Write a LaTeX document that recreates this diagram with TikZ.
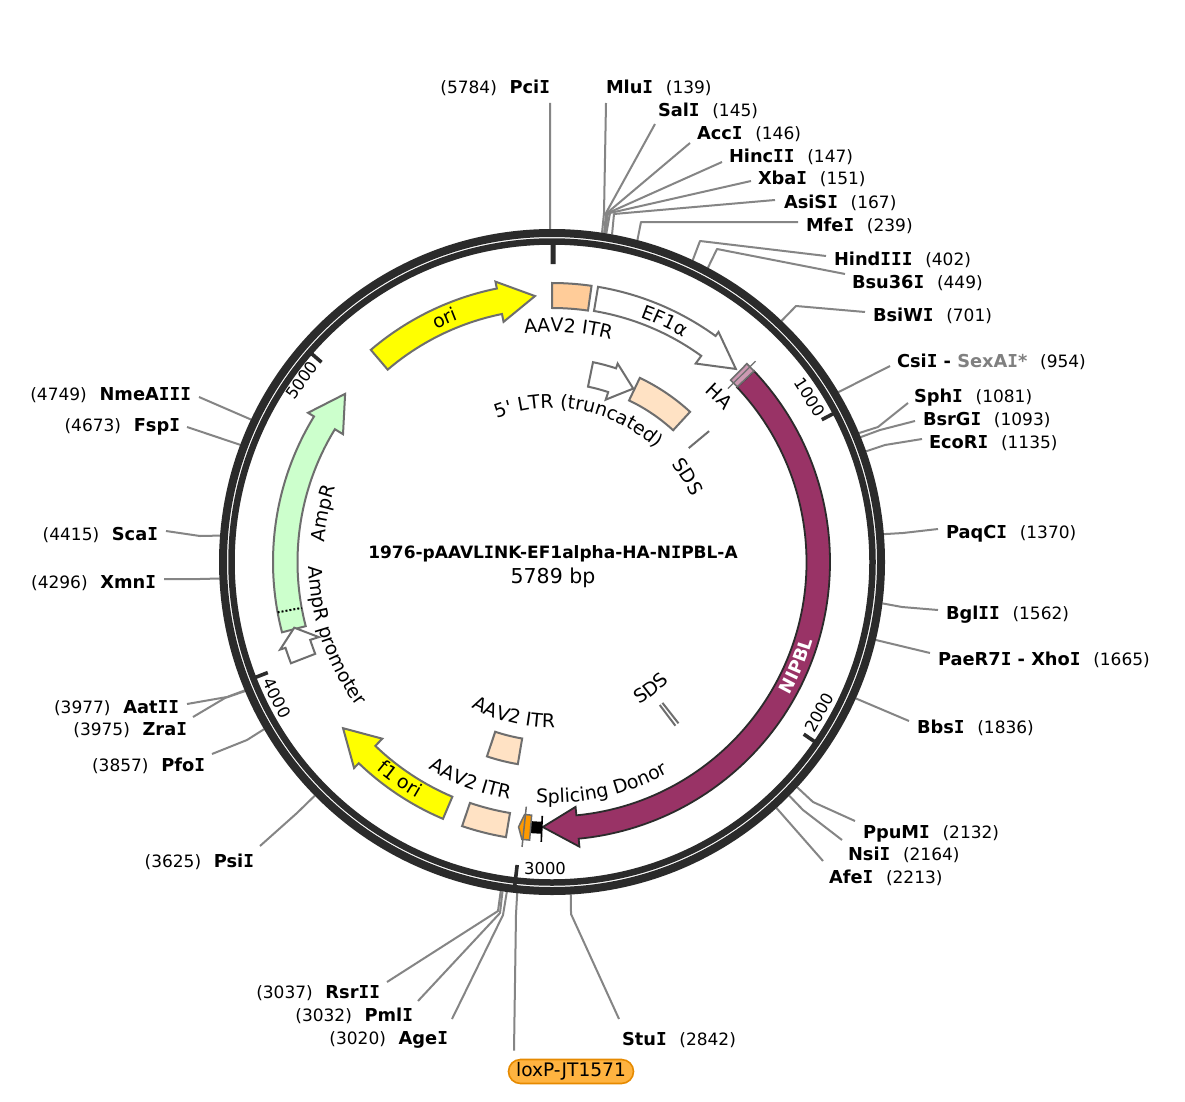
\documentclass[tikz,border=0pt]{standalone}
\usepackage{fontspec}
\usetikzlibrary{decorations.text}
\setmainfont{DejaVu Sans}[Ligatures=TeXOff]
\newfontfamily\monof{DejaVu Sans Mono}
\newcommand\Ib{{\monof\bfseries I}}
\newcommand\nmfont{\fontsize{17.8}{20}\selectfont\bfseries}
\newcommand\nbfont{\fontsize{17}{20}\selectfont\mdseries}
\newcommand\lblfont{\fontsize{18.9}{22}\selectfont}
\newcommand\tkfont{\fontsize{16.4}{20}\selectfont}
\newcommand\RL[2]{{\nmfont #1} \hspace*{9.5pt}{\nbfont (#2)}}
\newcommand\LL[2]{{\nbfont (#1)} \hspace*{9.5pt}{\nmfont #2}}
\definecolor{ringc}{HTML}{2B2B2B}
\definecolor{leadc}{HTML}{858585}
\definecolor{featc}{HTML}{6E6E6E}
\definecolor{itrpale}{HTML}{FFE2C4}
\definecolor{yelc}{rgb}{1,1,0}
\definecolor{itrc}{HTML}{FFCC99}
\definecolor{nipc}{HTML}{993366}
\definecolor{hac}{HTML}{CC99B2}
\definecolor{sdc}{HTML}{FF9900}
\definecolor{ampc}{HTML}{CCFFCC}
\definecolor{pillf}{HTML}{FFB340}
\definecolor{pilld}{HTML}{E68A00}
\tikzset{
  ringline/.style={draw=ringc},
  tickline/.style={draw=ringc,line width=3.6pt},
  leader/.style={draw=leadc,line width=2pt,line join=round},
  rlab/.style={anchor=west,text height=14pt,text depth=2pt,inner xsep=7pt,inner ysep=3pt,outer sep=0pt},
  llab/.style={anchor=east,text height=14pt,text depth=2pt,inner xsep=7pt,inner ysep=3pt,outer sep=0pt},
  feat/.style={draw=featc,line width=2pt,line join=miter},
  ticklab/.style={font=\tkfont,inner sep=0pt},
  pill/.style={draw=pilld,fill=pillf,line width=1.6pt,rounded corners=12pt,minimum width=125pt,minimum height=24pt,inner sep=0pt,font=\fontsize{18.6}{22}\selectfont},
}
% start angle, barb angle, tip angle, r in, r out, barb in, barb out, r tip
\newcommand\garrow[9]{\draw[#1] (#2:#6pt) arc[start angle=#2,end angle=#3,radius=#6pt] -- (#3:#8pt) -- (#4:#9pt) -- (#3:#7pt) -- (#3:#5pt) arc[start angle=#3,end angle=#2,radius=#5pt] -- cycle;}
\newcommand\gbox[5]{\draw[#1] (#2:#5pt) arc[start angle=#2,end angle=#3,radius=#5pt] -- (#3:#4pt) arc[start angle=#3,end angle=#2,radius=#4pt] -- cycle;}
% clockwise text (letter tops outward) and counter-clockwise text (letter tops inward)
\newcommand\cwtext[3]{\path[decorate,decoration={text along path,text align=center,text={|\lblfont|#3}}] ({#2+60}:#1pt) arc[start angle=#2+60,end angle=#2-60,radius=#1pt];}
\newcommand\ccwtext[3]{\path[decorate,decoration={text along path,text align=center,text={|\lblfont|#3}}] ({#2-60}:#1pt) arc[start angle=#2-60,end angle=#2+60,radius=#1pt];}
% label id, ring angle, elbow x, elbow y, shift x, shift y
\newcommand\leadW[6]{\draw[leader] ([shift={(#2:333pt)}]ring.center) -- (#3,-#4) -- ([shift={(#5pt,#6pt)}]#1.west);}
\newcommand\leadE[6]{\draw[leader] ([shift={(#2:333pt)}]ring.center) -- (#3,-#4) -- ([shift={(#5pt,#6pt)}]#1.east);}
\newcommand\leadWs[4]{\draw[leader] ([shift={(#2:333pt)}]ring.center) -- ([shift={(#3pt,#4pt)}]#1.west);}
\newcommand\leadEs[4]{\draw[leader] ([shift={(#2:333pt)}]ring.center) -- ([shift={(#3pt,#4pt)}]#1.east);}
\begin{document}
\begin{tikzpicture}[x=1pt,y=1pt]
\useasboundingbox (0,-1102) rectangle (1185,0);
\fill[white] (0,-1102) rectangle (1185,0);
\node[circle,minimum size=666pt,inner sep=0pt,outer sep=0pt] (ring) at (552,-562) {};

% labels, right side
\node[rlab] (MluI) at (606-7,-87-1) {\RL{Mlu\Ib}{139}};
\node[rlab] (SalI) at (658-7,-110-1) {\RL{Sal\Ib}{145}};
\node[rlab] (AccI) at (697-7,-133-1) {\RL{Acc\Ib}{146}};
\node[rlab] (HincII) at (729-7,-156-1) {\RL{Hinc\Ib\Ib}{147}};
\node[rlab] (XbaI) at (758-7,-178-1) {\RL{Xba\Ib}{151}};
\node[rlab] (AsiSI) at (784-7,-201-1) {\RL{AsiS\Ib}{167}};
\node[rlab] (MfeI) at (806-7,-224-1) {\RL{Mfe\Ib}{239}};
\node[rlab] (HindIII) at (834-7,-258-1) {\RL{Hind\Ib\Ib\Ib}{402}};
\node[rlab] (Bsu36I) at (852-7,-281-1) {\RL{Bsu36\Ib}{449}};
\node[rlab] (BsiWI) at (873-7,-314-1) {\RL{BsiW\Ib}{701}};
\node[rlab] (CsiI) at (897-7,-360-1) {\RL{Csi\Ib\ - \textcolor{gray}{SexA\Ib*}}{954}};
\node[rlab] (SphI) at (914-7,-395-1) {\RL{Sph\Ib}{1081}};
\node[rlab] (BsrGI) at (923-7,-418-1) {\RL{BsrG\Ib}{1093}};
\node[rlab] (EcoRI) at (929-7,-441-1) {\RL{EcoR\Ib}{1135}};
\node[rlab] (PaqCI) at (946-7,-531-1) {\RL{PaqC\Ib}{1370}};
\node[rlab] (BglII) at (946-7,-612-1) {\RL{Bgl\Ib\Ib}{1562}};
\node[rlab] (PaeR7I) at (938-7,-658-1) {\RL{PaeR7\Ib\ - Xho\Ib}{1665}};
\node[rlab] (BbsI) at (917-7,-726-1) {\RL{Bbs\Ib}{1836}};
\node[rlab] (PpuMI) at (863-7,-831-1) {\RL{PpuM\Ib}{2132}};
\node[rlab] (NsiI) at (848-7,-853-1) {\RL{Nsi\Ib}{2164}};
\node[rlab] (AfeI) at (829-7,-876-1) {\RL{Afe\Ib}{2213}};
\node[rlab] (StuI) at (622-7,-1038-1) {\RL{Stu\Ib}{2842}};
% labels, left side
\node[llab] (PciI) at (550+7,-87-1) {\LL{5784}{Pci\Ib}};
\node[llab] (NmeAIII) at (191+7,-393-1) {\LL{4749}{NmeA\Ib\Ib\Ib}};
\node[llab] (FspI) at (180+7,-424-1) {\LL{4673}{Fsp\Ib}};
\node[llab] (ScaI) at (158+7,-533-1) {\LL{4415}{Sca\Ib}};
\node[llab] (XmnI) at (156+7,-581-1) {\LL{4296}{Xmn\Ib}};
\node[llab] (AatII) at (179+7,-706-1) {\LL{3977}{Aat\Ib\Ib}};
\node[llab] (ZraI) at (187+7,-728-1) {\LL{3975}{Zra\Ib}};
\node[llab] (PfoI) at (205+7,-764-1) {\LL{3857}{Pfo\Ib}};
\node[llab] (PsiI) at (254+7,-860-1) {\LL{3625}{Psi\Ib}};
\node[llab] (RsrII) at (380+7,-991-1) {\LL{3037}{Rsr\Ib\Ib}};
\node[llab] (PmlI) at (413+7,-1014-1) {\LL{3032}{Pml\Ib}};
\node[llab] (AgeI) at (448+7,-1037-1) {\LL{3020}{Age\Ib}};
\node[pill] (loxP) at (571,-1071.5) {loxP-JT1571};

% leaders
\leadEs{PciI}{90.31}{-7}{-15}
\leadW{MluI}{81.36}{604}{213}{7}{-15}
\leadW{SalI}{80.98}{606}{213}{4}{-13}
\leadW{AccI}{80.92}{607}{213}{0}{-9}
\leadW{HincII}{80.86}{608}{213}{0}{-5}
\leadW{XbaI}{80.61}{610}{213}{0}{-2}
\leadW{AsiSI}{79.61}{614}{214}{-2}{2}
\leadW{MfeI}{75.14}{641}{222}{-1}{3}
\leadW{HindIII}{65.00}{700}{241}{-1}{3}
\leadW{Bsu36I}{62.08}{717}{249}{0}{8}
\leadW{BsiWI}{46.41}{796}{306}{-1}{3}
\leadWs{CsiI}{30.67}{0}{-5}
\leadW{SphI}{22.78}{878}{427}{1}{-7}
\leadW{BsrGI}{22.03}{880}{430}{-1}{-2}
\leadW{EcoRI}{19.42}{885}{445}{0}{3}
\leadW{PaqCI}{4.80}{903}{533}{-1}{3}
\leadW{BglII}{-7.14}{902}{607}{-1}{3}
\leadWs{PaeR7I}{-13.54}{-1}{6}
\leadWs{BbsI}{-24.18}{-1}{6}
\leadW{PpuMI}{-42.58}{813}{802}{-1}{11}
\leadW{NsiI}{-44.57}{803}{810}{1}{14}
\leadWs{AfeI}{-47.62}{1}{16}
\leadW{StuI}{-86.74}{571}{914}{4}{20}
\draw[leader] ([shift={(-96:333pt)}]ring.center) -- (516,-914) -- ([shift={(-57pt,8pt)}]loxP.north);
\leadE{AgeI}{-97.80}{503}{915}{-3}{19}
\leadE{PmlI}{-98.55}{500}{913}{-2}{14}
\leadE{RsrII}{-98.86}{498}{911}{0}{10}
\leadE{PsiI}{-135.43}{297}{813}{-1}{15}
\leadE{PfoI}{-149.86}{247}{740}{0}{11}
\leadE{ZraI}{-157.19}{225}{698}{-1}{12}
\leadE{AatII}{-157.32}{227}{697}{1}{3}
\leadE{XmnI}{-177.16}{200}{579}{1}{3}
\leadE{ScaI}{175.45}{200}{536}{1}{3}
\leadEs{FspI}{159.40}{0}{-2}
\leadEs{NmeAIII}{154.67}{1}{-3}

\begin{scope}[shift={(552,-562)}]
% rings
\draw[ringline,line width=8pt] (0,0) circle[radius=329pt];
\draw[ringline,line width=6.5pt] (0,0) circle[radius=320.5pt];
% ticks
\draw[draw=ringc,line width=5pt] (89.8:298pt) -- (89.8:320pt);
\draw[tickline] (27.81:305pt) -- (27.81:320pt);
\draw[tickline] (-34.37:305pt) -- (-34.37:320pt);
\draw[tickline] (-96.56:305pt) -- (-96.56:326pt);
\draw[tickline] (-158.74:305pt) -- (-158.74:320pt);
\draw[tickline] (139.09:305pt) -- (139.09:320pt);
\node[ticklab,rotate=-57.4] (t1000) at (32.6:306pt) {1000};
\node[ticklab,rotate=60.6] (t2000) at (-29.4:307pt) {2000};
\node[ticklab] (t3000) at (-91.3:307pt) {3000};
\node[ticklab,rotate=-63.7] (t4000) at (206.3:307pt) {4000};
\node[ticklab,rotate=54] (t5000) at (144:309pt) {5000};

% features
\garrow{feat,fill=yelc}{130.5}{101.4}{93.66}{253}{279}{245}{286}{266.5}
\gbox{feat,fill=itrc}{90}{81.85}{254}{279}
\garrow{feat,fill=white}{80.5}{54.1}{46.4}{254.5}{279}{245}{284}{266.6}
\garrow{feat,fill=white}{78.4}{71.7}{64.9}{179}{204}{171}{209}{191.5}
\gbox{feat,fill=itrpale}{64.5}{47.4}{179}{204}
\draw[feat] (39.8:178pt) -- (39.8:204.5pt);
\garrow{draw=ringc,line width=1.8pt,fill=nipc}{43.4}{-84.5}{-92}{254.5}{278}{246}{286}{265.2}
\gbox{feat,line width=1.6pt,fill=hac}{45.5}{43.4}{255}{278}
\draw[feat,line width=1.2pt] (44.6:247pt) -- (44.6:286pt);
\draw[feat] (-53:179pt) -- (-53:205pt);
\draw[feat] (-51.9:179pt) -- (-51.9:205pt);
% splicing donor
\fill[black] (-92.2:260pt) -- (-92.2:272pt) -- (-94.6:272pt) -- (-94.6:260pt) -- cycle;
\draw[draw=black,line width=1.6pt] (-92.2:254pt) -- (-92.2:280pt);
\draw[feat,line width=1.5pt,fill=sdc] (-94.6:254pt) -- (-94.6:279pt) -- (-96.2:279pt) -- (-97.2:267pt) -- (-96.2:254pt) -- cycle;
\draw[feat,line width=1.5pt] (-96:246pt) -- (-96:286.5pt);
% origin and ITR below
\garrow{feat,fill=yelc}{-113}{-133.85}{-141.5}{255}{279}{245}{285.7}{267}
\gbox{feat,fill=itrpale}{-99.5}{-108.8}{254.5}{279}
\gbox{feat,fill=itrpale}{-99.6}{-108.5}{179}{205}
% AmpR
\garrow{draw=featc,line width=2pt,fill=ampc}{194.6}{148.55}{140.9}{254.5}{279}{245}{286}{266.6}
\draw[draw=black,line width=2pt,dotted] (190.4:279pt) -- (190.4:254.5pt);
\garrow{feat,fill=white}{201.2}{197.85}{194.3}{254}{280}{245}{285.6}{266}

% curved labels
\cwtext{230}{86}{AAV2 ITR}
\cwtext{260}{65}{EF1α}
\cwtext{260}{113.7}{ori}
\cwtext{154}{79.2}{5' LTR (truncated)}
\cwtext{229}{44.8}{HA}
\cwtext{154}{32.2}{SDS}
\cwtext{228.5}{168}{AmpR}
\ccwtext{243}{198.8}{AmpR promoter}
\ccwtext{167}{-52}{SDS}
\ccwtext{166}{-104}{AAV2 ITR}
\ccwtext{241}{-110.5}{AAV2 ITR}
\ccwtext{241}{-77.5}{Splicing Donor}
\ccwtext{272}{-125}{f1 ori}
\path[decorate,decoration={text along path,text align=center,text={|\fontsize{17.8}{20}\selectfont\bfseries\color{white}|NIPBL}}] (-83:272pt) arc[start angle=-83,end angle=37,radius=272pt];
\end{scope}

% title
\node[inner sep=0pt,font=\fontsize{17}{20}\selectfont\bfseries] (title) at (553,-553.5) {1976-pAAVL\Ib NK-EF1alpha-HA-N\Ib PBL-A};
\node[inner sep=0pt,font=\fontsize{20.5}{24}\selectfont] (bp) at (553,-578) {5789 bp};
\end{tikzpicture}
\end{document}
